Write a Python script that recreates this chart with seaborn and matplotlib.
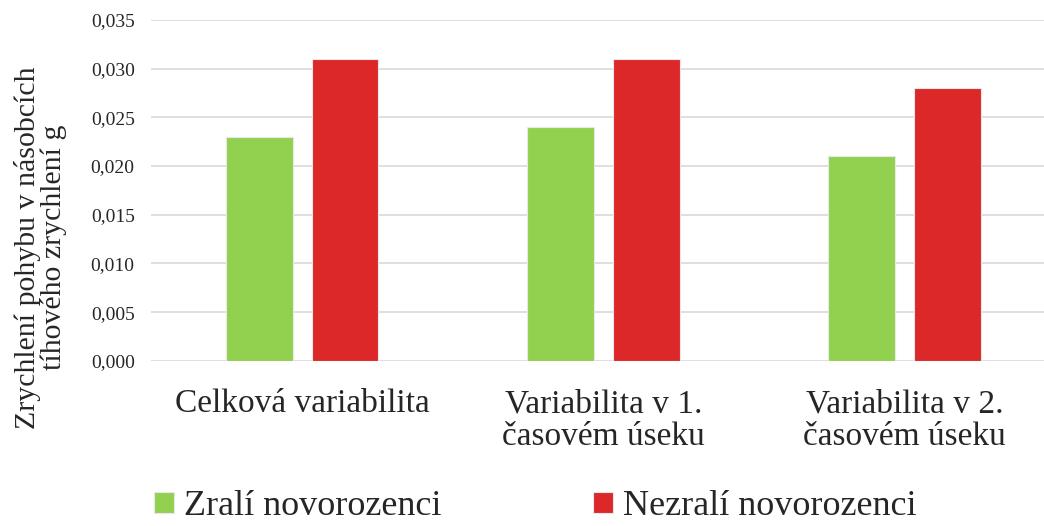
import pandas as pd
import matplotlib.pyplot as plt
import seaborn as sns
from matplotlib.ticker import FuncFormatter

# data
kategorie = ["Celková variabilita", "Variabilita v 1.\nčasovém úseku", "Variabilita v 2.\nčasovém úseku"]
zrali = [0.023, 0.024, 0.021]
nezrali = [0.031, 0.031, 0.028]
skupiny = ["Zralí novorozenci", "Nezralí novorozenci"]
barvy = ["#92D050", "#DC2828"]

df = pd.DataFrame({
    "kategorie": kategorie * 2,
    "hodnota": zrali + nezrali,
    "skupina": [skupiny[0]] * 3 + [skupiny[1]] * 3,
})

sns.set_style("white")
plt.rcParams["font.family"] = ["Liberation Serif", "DejaVu Serif"]

fig = plt.figure(figsize=(10.44, 5.26), dpi=100)
ax = fig.add_axes([0.145, 0.314, 0.855, 0.648])

sns.barplot(data=df, x="kategorie", y="hodnota", hue="skupina", palette=barvy,
            saturation=1, width=0.57, gap=0.22, edgecolor="#E8E8E8", linewidth=0.8,
            ax=ax, zorder=3)

ax.set_ylim(0, 0.035)
ax.set_yticks([i * 0.005 for i in range(8)])
ax.yaxis.set_major_formatter(FuncFormatter(lambda v, p: f"{v:.3f}".replace(".", ",")))
ax.set_xlim(-0.5, 2.462)
ax.grid(axis="y", color="#D9D9D9", linewidth=1.2, zorder=0)
for s in ax.spines.values():
    s.set_visible(False)
ax.tick_params(axis="y", labelsize=14, length=0, pad=12)
ax.tick_params(axis="x", labelsize=24, length=0, pad=20)
for t in ax.get_xticklabels():
    t.set_linespacing(1.12)
ax.set_xlabel("")
ax.set_ylabel("Zrychlení pohybu v násobcích\ntíhového zrychlení g", fontsize=21.5, linespacing=0.95)
ax.yaxis.set_label_coords(-0.095, 0.333)

ax.legend(loc="center", bbox_to_anchor=(0.430, -0.428), ncol=2, frameon=False,
          fontsize=26, handlelength=0.55, handleheight=0.55, handletextpad=0.28,
          columnspacing=4.2)

fig.savefig("out.png", dpi=100)
